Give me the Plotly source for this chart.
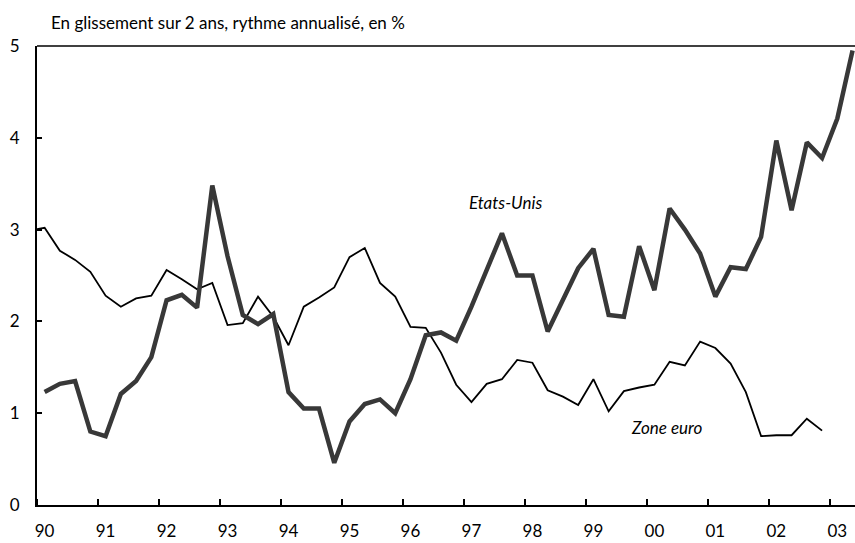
import plotly.graph_objects as go

# Quarterly data, 1990Q1 onwards
us_values = [1.23, 1.32, 1.35, 0.80, 0.75, 1.21, 1.35, 1.61, 2.23, 2.29, 2.15, 3.48,
             2.71, 2.07, 1.97, 2.08, 1.23, 1.05, 1.05, 0.46, 0.91, 1.10, 1.15, 1.00,
             1.37, 1.85, 1.88, 1.79, 2.16, 2.56, 2.96, 2.50, 2.50, 1.89, 2.24, 2.58,
             2.79, 2.07, 2.05, 2.82, 2.34, 3.23, 3.00, 2.74, 2.27, 2.59, 2.57, 2.92,
             3.97, 3.21, 3.95, 3.78, 4.21, 4.95]
# Zone euro starts one quarter earlier (1989Q4), clipped by the axis
euro_values = [2.99, 3.02, 2.77, 2.67, 2.54, 2.28, 2.16, 2.25, 2.28, 2.56, 2.46, 2.35, 2.42,
               1.96, 1.98, 2.27, 2.05, 1.74, 2.16, 2.26, 2.37, 2.70, 2.80, 2.42, 2.27,
               1.94, 1.93, 1.66, 1.31, 1.12, 1.32, 1.37, 1.58, 1.55, 1.25, 1.18, 1.09,
               1.37, 1.02, 1.24, 1.28, 1.31, 1.56, 1.52, 1.78, 1.71, 1.54, 1.23, 0.75,
               0.76, 0.76, 0.94, 0.81]
year_labels = ["90", "91", "92", "93", "94", "95", "96", "97", "98", "99", "00", "01", "02", "03"]
y_ticks = [0, 1, 2, 3, 4, 5]

title_text = "En glissement sur 2 ans, rythme annualisé, en %"
us_label = "Etats-Unis"
euro_label = "Zone euro"

x_us = [1990 + (k + 0.5) / 4 for k in range(len(us_values))]
x_euro = [1990 + (k - 0.5) / 4 for k in range(len(euro_values))]
label_pos = [1990 + i + 0.125 for i in range(len(year_labels))]
years = [1990 + i for i in range(len(year_labels))]

FONT = "Lato"

fig = go.Figure()
fig.add_trace(go.Scatter(x=x_euro, y=euro_values, mode="lines",
                         line=dict(color="#000000", width=1.8), showlegend=False))
fig.add_trace(go.Scatter(x=x_us, y=us_values, mode="lines",
                         line=dict(color="#383838", width=4.5), showlegend=False))

fig.update_layout(
    width=855, height=543,
    margin=dict(l=37, r=0, t=46, b=37.5, autoexpand=False),
    paper_bgcolor="white", plot_bgcolor="white",
    font=dict(family=FONT, color="#000000"),
    showlegend=False,
)
fig.update_xaxes(
    range=[1990, 2003.415],
    tickmode="array", tickvals=label_pos, ticktext=year_labels,
    ticks="", ticklen=0, ticklabelstandoff=10,
    tickfont=dict(size=17, family=FONT),
    showgrid=False, zeroline=False, automargin=False,
    showline=True, linecolor="#000000", linewidth=2,
    minor=dict(tickmode="array", tickvals=years, ticks="inside", ticklen=6,
               tickwidth=2, tickcolor="#000000", showgrid=False),
)
fig.update_yaxes(
    range=[0, 5],
    tickmode="array", tickvals=y_ticks, ticktext=[str(v) for v in y_ticks],
    ticks="inside", ticklen=5, tickwidth=1.5, tickcolor="#000000",
    ticklabelstandoff=12,
    tickfont=dict(size=17, family=FONT),
    showgrid=False, zeroline=False, automargin=False,
    showline=True, linecolor="#000000", linewidth=2,
)
fig.add_shape(type="line", xref="paper", yref="paper", x0=0, x1=1, y0=1, y1=1,
              line=dict(color="#000000", width=1.5))

fig.add_annotation(text=title_text, xref="paper", yref="paper", x=0.0, y=1.0,
                   xanchor="left", yanchor="middle", yshift=24, xshift=12,
                   showarrow=False, font=dict(size=17, family=FONT))
fig.add_annotation(text="<i>" + us_label + "</i>", x=1997.68, y=3.30,
                   xanchor="center", yanchor="middle", showarrow=False,
                   font=dict(size=17, family=FONT))
fig.add_annotation(text="<i>" + euro_label + "</i>", x=2000.33, y=0.846,
                   xanchor="center", yanchor="middle", showarrow=False,
                   font=dict(size=17, family=FONT))

fig.write_html(
    "out.html",
    config={"displayModeBar": False},
    post_script="document.body.style.margin='0';document.documentElement.style.overflow='hidden';",
)
